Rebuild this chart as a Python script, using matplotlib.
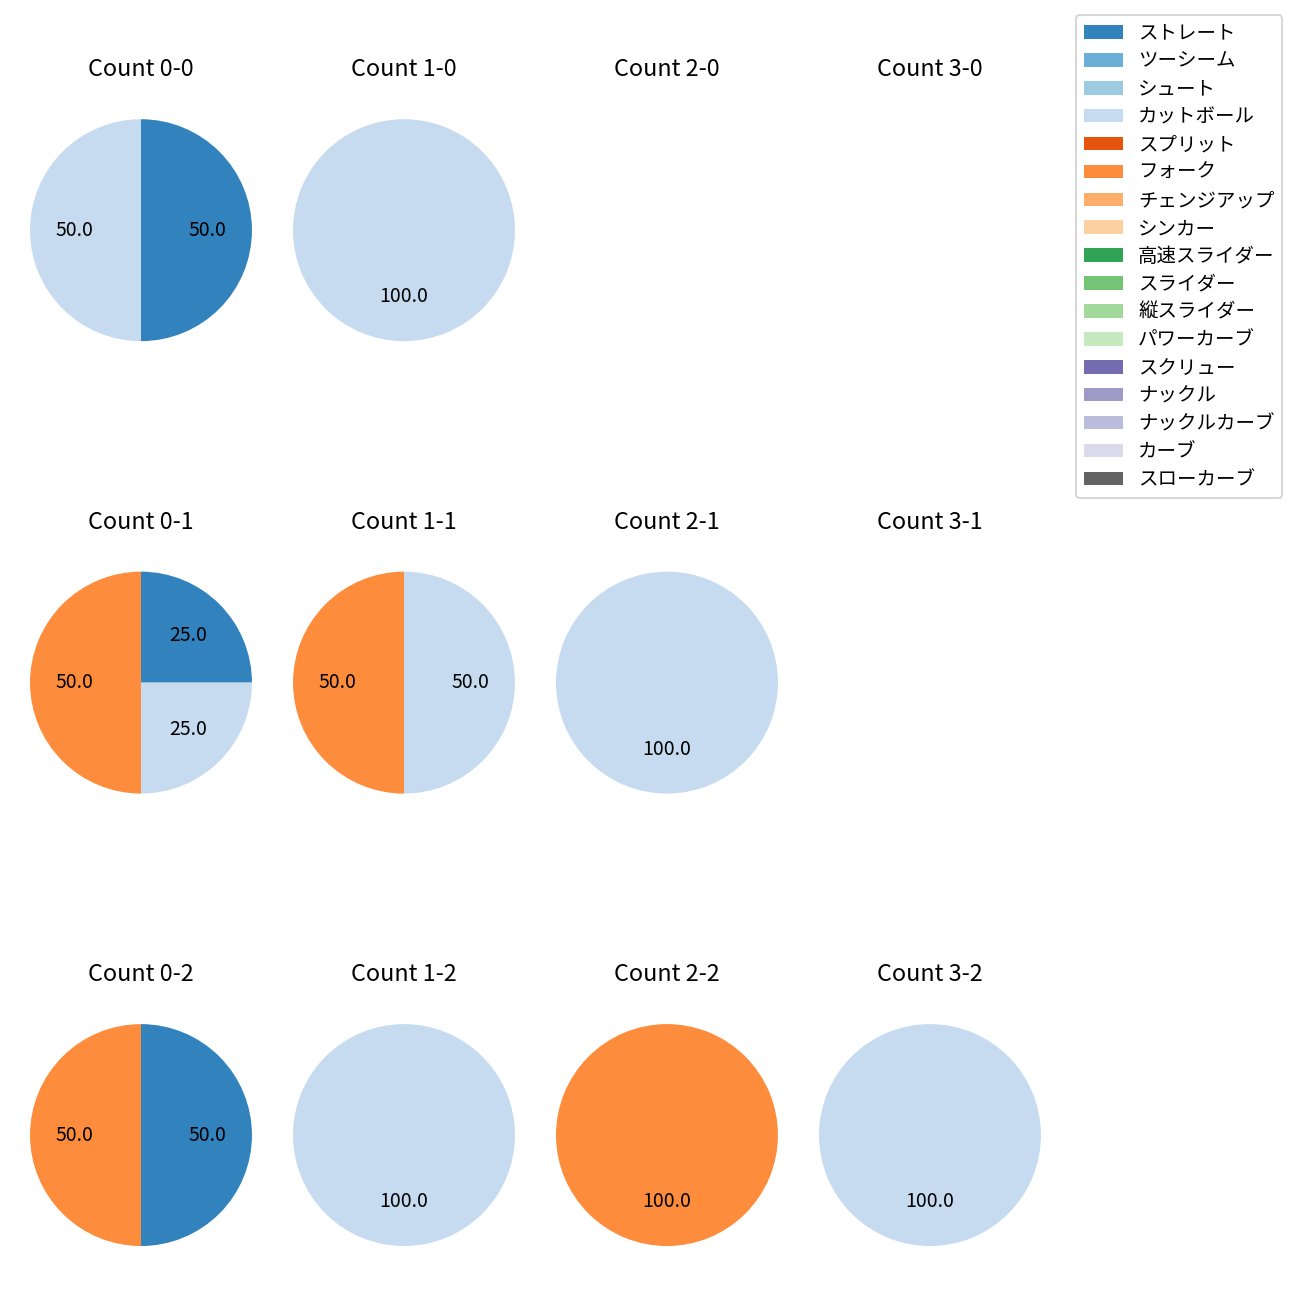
import numpy as np
import matplotlib
matplotlib.use("Agg")
import matplotlib.pyplot as plt
from matplotlib.patches import Patch

plt.rcParams["font.family"] = ["Noto Sans CJK JP", "DejaVu Sans"]

# pitch types (legend order) and tab20c colours
pitch_types = [
    "ストレート", "ツーシーム", "シュート", "カットボール", "スプリット",
    "フォーク", "チェンジアップ", "シンカー", "高速スライダー", "スライダー",
    "縦スライダー", "パワーカーブ", "スクリュー", "ナックル", "ナックルカーブ",
    "カーブ", "スローカーブ",
]
colors = [plt.get_cmap("tab20c")(i) for i in range(len(pitch_types))]

# balls (columns) x strikes (rows)
balls = [0, 1, 2, 3]
strikes = [0, 1, 2]

# counts per situation: (ストレート, カットボール, フォーク)
straight = {"0-0": 1, "0-1": 1, "0-2": 1}
cutter = {"0-0": 1, "1-0": 1, "0-1": 1, "1-1": 1, "2-1": 1, "1-2": 1, "3-2": 1}
fork = {"0-1": 2, "1-1": 1, "0-2": 1, "2-2": 1}

dpi = 140
fig, axes = plt.subplots(3, 4, figsize=(1300 / dpi, 1300 / dpi), dpi=dpi)
fig.subplots_adjust(left=0.0073, right=0.8165, top=0.936, bottom=0.0138,
                    wspace=0.0, hspace=0.539)

for r, s in enumerate(strikes):
    for c, b in enumerate(balls):
        ax = axes[r, c]
        key = f"{b}-{s}"
        vals = [straight.get(key, 0), cutter.get(key, 0), fork.get(key, 0)]
        cols = [colors[0], colors[3], colors[5]]
        v = [x for x in vals if x > 0]
        cl = [cc for x, cc in zip(vals, cols) if x > 0]
        if v:
            ax.pie(v, colors=cl, autopct="%.1f", startangle=90,
                   counterclock=False)
        ax.set_title(f"Count {key}", pad=3.5)
        ax.set_xlim(-1.185, 1.185)
        ax.set_ylim(-1.324, 1.324)
        ax.set_aspect("equal")
        ax.axis("off")

handles = [Patch(facecolor=col, label=lab) for col, lab in zip(colors, pitch_types)]
fig.legend(handles=handles, loc="upper right", bbox_to_anchor=(0.994, 0.996),
           labelspacing=0.355)

fig.savefig("out.png", dpi=dpi)
